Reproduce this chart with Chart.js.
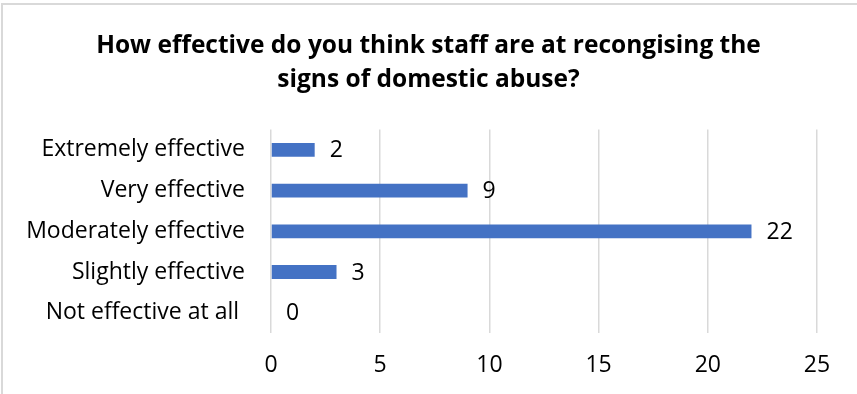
<!DOCTYPE html>
<html>
<head>
<meta charset="utf-8">
<script src="https://cdn.jsdelivr.net/npm/chart.js@4/dist/chart.umd.min.js"></script>
<style>
  html, body { margin: 0; padding: 0; background: #fff; }
  #wrap { position: relative; width: 857px; height: 394px; }
  #frame { position: absolute; left: 1px; top: 3px; right: 0; bottom: 0;
           border-top: 2px solid #d9d9d9; border-left: 2px solid #d9d9d9; pointer-events: none; }
</style>
</head>
<body>
<div id="wrap">
  <canvas id="chartCanvas" width="857" height="394"></canvas>
  <div id="frame"></div>
</div>
<script>
const fontFamily = "'Open Sans', sans-serif";
const barColor = '#4472C4';
const gridColor = '#d9d9d9';

const titleLines = ['How effective do you think staff are at recongising the', 'signs of domestic abuse?'];
const categories = ['Extremely effective', 'Very effective', 'Moderately effective', 'Slightly effective', 'Not effective at all '];
const responses = [2, 9, 22, 3, 0];
const axisMin = 0;
const axisMax = 25;
const axisStep = 5;

// draws the value next to the end of each bar
const barValueLabels = {
    id: 'barValueLabels',
    afterDatasetsDraw(chart) {
        const ctx = chart.ctx;
        ctx.save();
        ctx.font = '23px ' + fontFamily;
        ctx.fillStyle = '#000';
        ctx.textAlign = 'left';
        ctx.textBaseline = 'middle';
        chart.data.datasets.forEach((dataset, i) => {
            chart.getDatasetMeta(i).data.forEach((bar, j) => {
                ctx.fillText(String(dataset.data[j]), bar.x + 15, bar.y + 1);
            });
        });
        ctx.restore();
    }
};

// the category labels are wider than the left padding, so stop them being clipped
const unclipLabels = {
    id: 'unclipLabels',
    afterLayout(chart) {
        chart.scales.y.left = 0;
    }
};

const chartConfig = {
    type: 'bar',
    data: {
        labels: categories,
        datasets: [{
            label: 'Responses',
            data: responses,
            backgroundColor: barColor,
            barPercentage: 0.34,
            categoryPercentage: 1
        }]
    },
    options: {
        indexAxis: 'y',
        responsive: false,
        animation: false,
        devicePixelRatio: 1,
        layout: {
            padding: { left: 40, right: 40, top: 0, bottom: 15 }
        },
        scales: {
            x: {
                min: axisMin,
                max: axisMax,
                afterFit: (scale) => { scale.height = 46; },
                ticks: {
                    stepSize: axisStep,
                    color: '#000',
                    padding: 19,
                    font: { family: fontFamily, size: 23 }
                },
                grid: { color: gridColor, lineWidth: 1.5, drawTicks: false },
                border: { display: false }
            },
            y: {
                afterFit: (scale) => { scale.width = 231; },
                ticks: {
                    color: '#000',
                    padding: 18,
                    font: { family: fontFamily, size: 23 }
                },
                grid: { display: false },
                border: { display: false }
            }
        },
        plugins: {
            legend: { display: false },
            tooltip: { enabled: false },
            title: {
                display: true,
                text: titleLines,
                color: '#000',
                font: { family: fontFamily, size: 24.5, weight: 'bold', lineHeight: 1.4 },
                padding: { top: 29, bottom: 32 }
            }
        }
    },
    plugins: [barValueLabels, unclipLabels]
};

const effectivenessChart = new Chart(document.getElementById('chartCanvas'), chartConfig);
</script>
</body>
</html>
